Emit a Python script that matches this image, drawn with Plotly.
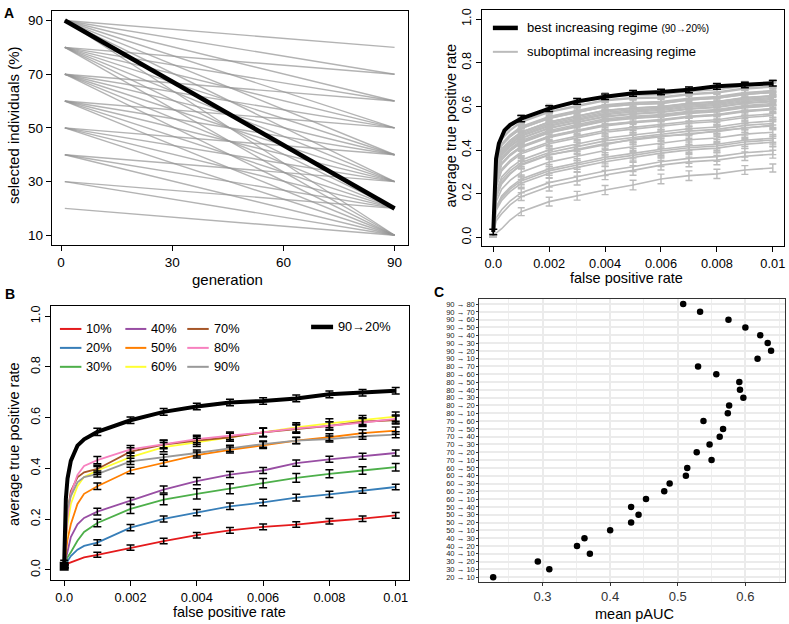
import plotly.graph_objects as go

W, H = 789, 624
FONT = "Liberation Sans, Arial, Helvetica, sans-serif"

# ---------------- data ----------------
# regimes (start % -> end %), in panel C top-to-bottom order
regime_start = [90]*8 + [80]*7 + [70]*6 + [60]*5 + [50]*4 + [40]*3 + [30]*2 + [20]
regime_end = [80, 70, 60, 50, 40, 30, 20, 10,
              70, 60, 50, 40, 30, 20, 10,
              60, 50, 40, 30, 20, 10,
              50, 40, 30, 20, 10,
              40, 30, 20, 10,
              30, 20, 10,
              20, 10,
              10]
mean_pauc = [0.508, 0.533, 0.575, 0.600, 0.622, 0.633, 0.638, 0.618,
             0.530, 0.557, 0.591, 0.592, 0.597, 0.576, 0.574,
             0.538, 0.567, 0.562, 0.547, 0.528, 0.550,
             0.514, 0.512, 0.488, 0.480, 0.453,
             0.431, 0.442, 0.431, 0.400,
             0.362, 0.351, 0.370,
             0.293, 0.310,
             0.227]
best_regime = (90, 20)
generation = [1, 90]

# panel A right: suboptimal increasing regimes, average TPR
fpr_gray = [0, 0.0001, 0.0003, 0.0006, 0.001, 0.002, 0.003, 0.004, 0.005,
            0.006, 0.007, 0.008, 0.009, 0.010]
tpr_subopt = {
    "20→10": [.01, .02, .04, .08, .118, .164, .191, .217, .240, .268, .283, .291, .309, .318],
    "30→20": [.01, .075, .109, .149, .187, .233, .260, .286, .307, .331, .346, .354, .372, .381],
    "30→10": [.01, .089, .127, .167, .205, .251, .278, .304, .324, .347, .362, .370, .388, .397],
    "40→20": [.01, .123, .170, .210, .248, .294, .321, .347, .366, .386, .401, .409, .427, .436],
    "40→30": [.01, .132, .181, .221, .259, .305, .332, .358, .376, .396, .411, .419, .437, .446],
    "40→10": [.01, .138, .190, .230, .268, .314, .341, .367, .385, .404, .419, .427, .445, .454],
    "50→10": [.01, .163, .221, .261, .299, .345, .372, .398, .415, .432, .447, .455, .473, .482],
    "50→20": [.01, .189, .253, .293, .331, .377, .404, .430, .446, .461, .476, .484, .502, .511],
    "50→40": [.01, .180, .245, .290, .335, .380, .400, .425, .450, .465, .470, .490, .500, .515],
    "50→30": [.01, .198, .265, .305, .343, .389, .416, .442, .458, .472, .487, .495, .513, .522],
    "60→10": [.01, .207, .277, .317, .355, .401, .428, .454, .469, .483, .498, .506, .524, .533],
    "60→20": [.01, .229, .305, .345, .383, .429, .456, .482, .496, .508, .523, .531, .549, .558],
    "60→30": [.01, .236, .313, .353, .391, .437, .464, .490, .504, .516, .531, .539, .557, .566],
    "90→80": [.01, .253, .334, .374, .412, .458, .485, .511, .525, .535, .550, .558, .576, .585],
    "60→40": [.01, .256, .338, .378, .416, .462, .489, .515, .528, .538, .553, .561, .579, .588],
    "60→50": [.01, .257, .340, .380, .418, .464, .491, .517, .530, .540, .555, .563, .581, .590],
    "70→20": [.01, .269, .355, .395, .433, .479, .506, .532, .545, .553, .568, .576, .594, .603],
    "80→70": [.01, .271, .357, .397, .435, .481, .508, .534, .547, .555, .570, .578, .596, .605],
    "90→70": [.01, .273, .360, .400, .438, .484, .511, .537, .550, .559, .574, .582, .600, .609],
    "70→60": [.01, .277, .366, .406, .444, .490, .517, .543, .555, .563, .578, .586, .604, .613],
    "70→30": [.01, .285, .375, .415, .453, .499, .526, .552, .564, .572, .587, .595, .613, .622],
    "70→10": [.01, .287, .378, .418, .456, .502, .529, .555, .567, .575, .590, .598, .616, .625],
    "80→60": [.01, .293, .385, .425, .463, .509, .536, .562, .574, .581, .596, .604, .622, .631],
    "70→40": [.01, .297, .390, .430, .468, .514, .541, .567, .579, .586, .601, .609, .627, .636],
    "70→50": [.01, .301, .396, .436, .474, .520, .547, .573, .584, .591, .606, .614, .632, .641],
    "80→10": [.01, .307, .403, .443, .481, .527, .554, .580, .591, .597, .612, .620, .638, .647],
    "90→60": [.01, .308, .404, .444, .482, .528, .555, .581, .592, .598, .613, .621, .639, .648],
    "80→20": [.01, .309, .405, .445, .483, .529, .556, .582, .593, .599, .614, .622, .640, .649],
    "80→50": [.01, .321, .421, .461, .499, .545, .572, .598, .609, .614, .629, .637, .655, .664],
    "80→40": [.01, .322, .422, .462, .500, .546, .573, .599, .609, .614, .629, .637, .655, .664],
    "80→30": [.01, .326, .427, .467, .505, .551, .578, .604, .614, .619, .634, .642, .660, .669],
    "90→50": [.01, .329, .430, .470, .508, .554, .581, .607, .618, .622, .637, .645, .663, .672],
    "90→10": [.01, .343, .449, .489, .527, .573, .600, .626, .636, .639, .654, .662, .680, .689],
    "90→40": [.01, .347, .453, .493, .531, .577, .604, .630, .640, .643, .658, .666, .684, .693],
    "90→30": [.01, .356, .465, .505, .543, .589, .616, .642, .651, .653, .668, .676, .694, .703],
}
gray_err = [0.006, 0.018, 0.02, 0.02, 0.021, 0.022, 0.022, 0.022, 0.021, 0.02, 0.018]

# best increasing regime 90 -> 20
fpr_best = [0, 0.00005, 0.0001, 0.0002, 0.0003, 0.0004, 0.0006, 0.001, 0.002, 0.003,
            0.004, 0.005, 0.006, 0.007, 0.008, 0.009, 0.010]
tpr_best = [0.025, 0.28, 0.36, 0.43, 0.46, 0.49, 0.515, 0.544, 0.59, 0.623,
            0.644, 0.66, 0.666, 0.676, 0.692, 0.698, 0.706]
best_err = [0.013, 0.014, 0.013, 0.013, 0.013, 0.013, 0.013, 0.013, 0.013, 0.013, 0.013]

# panel B: constant regimes
const_labels = ["10%", "20%", "30%", "40%", "50%", "60%", "70%", "80%", "90%"]
const_colors = ["#E41A1C", "#377EB8", "#4DAF4A", "#984EA3", "#FF7F00",
                "#FFFF33", "#A65628", "#F781BF", "#999999"]
fpr_const = [0, 0.0001, 0.0002, 0.0004, 0.0006, 0.001, 0.002, 0.003, 0.004,
             0.005, 0.006, 0.007, 0.008, 0.009, 0.010]
tpr_const = [
    [0.015, 0.025, 0.03, 0.04, 0.05, 0.06, 0.088, 0.114, 0.137, 0.156, 0.170, 0.179, 0.192, 0.202, 0.215],
    [0.015, 0.035, 0.055, 0.08, 0.095, 0.108, 0.167, 0.201, 0.226, 0.251, 0.266, 0.285, 0.298, 0.313, 0.327],
    [0.015, 0.05, 0.07, 0.115, 0.15, 0.185, 0.241, 0.277, 0.300, 0.320, 0.342, 0.363, 0.379, 0.392, 0.405],
    [0.015, 0.08, 0.13, 0.18, 0.205, 0.23, 0.272, 0.317, 0.350, 0.376, 0.392, 0.421, 0.436, 0.448, 0.461],
    [0.015, 0.12, 0.18, 0.26, 0.30, 0.33, 0.392, 0.421, 0.453, 0.473, 0.492, 0.510, 0.523, 0.539, 0.549],
    [0.015, 0.18, 0.26, 0.33, 0.367, 0.392, 0.445, 0.484, 0.503, 0.523, 0.542, 0.562, 0.578, 0.591, 0.604],
    [0.015, 0.23, 0.31, 0.365, 0.385, 0.398, 0.466, 0.494, 0.510, 0.523, 0.542, 0.555, 0.568, 0.584, 0.591],
    [0.015, 0.21, 0.30, 0.375, 0.41, 0.433, 0.475, 0.497, 0.516, 0.529, 0.542, 0.558, 0.568, 0.581, 0.595],
    [0.015, 0.24, 0.29, 0.345, 0.366, 0.378, 0.428, 0.444, 0.461, 0.479, 0.496, 0.510, 0.516, 0.527, 0.533],
]
const_err = [
    [0.006, 0.010, 0.010, 0.011, 0.011, 0.011, 0.011, 0.011, 0.011, 0.011, 0.011],
    [0.006, 0.011, 0.012, 0.012, 0.012, 0.013, 0.013, 0.013, 0.012, 0.011, 0.011],
    [0.006, 0.015, 0.018, 0.02, 0.02, 0.02, 0.018, 0.017, 0.016, 0.015, 0.015],
    [0.006, 0.013, 0.014, 0.014, 0.014, 0.012, 0.012, 0.012, 0.012, 0.012, 0.012],
    [0.006, 0.013, 0.013, 0.012, 0.012, 0.012, 0.013, 0.013, 0.014, 0.014, 0.014],
    [0.006, 0.016, 0.018, 0.018, 0.016, 0.016, 0.017, 0.018, 0.018, 0.018, 0.018],
    [0.006, 0.015, 0.016, 0.016, 0.016, 0.016, 0.016, 0.016, 0.016, 0.016, 0.016],
    [0.006, 0.014, 0.015, 0.015, 0.015, 0.015, 0.016, 0.016, 0.016, 0.016, 0.016],
    [0.006, 0.012, 0.012, 0.012, 0.012, 0.012, 0.012, 0.012, 0.012, 0.012, 0.012],
]

fpr_ticks = [0, 0.002, 0.004, 0.006, 0.008, 0.010]
fpr_ticktext = ["0.0", "0.002", "0.004", "0.006", "0.008", "0.01"]
tpr_ticks = [0, 0.2, 0.4, 0.6, 0.8, 1.0]
tpr_ticktext = ["0.0", "0.2", "0.4", "0.6", "0.8", "1.0"]
gen_ticks = [0, 30, 60, 90]
sel_ticks = [10, 30, 50, 70, 90]
pauc_ticks = [0.3, 0.4, 0.5, 0.6]

GRAY_A = "rgba(150,150,150,0.72)"
GRAY_R = "#BBBBBB"


def px(x):
    return x / W


def py(y):
    return 1 - y / H


def bar_idx(xs):
    # positions where error bars are drawn: fpr 0 and every 0.001
    return [i for i, v in enumerate(xs) if v == 0 or v >= 0.001 - 1e-12]


fig = go.Figure()

# ---------------- panel A left ----------------
for s, e in zip(regime_start, regime_end):
    if (s, e) == best_regime:
        continue
    fig.add_trace(go.Scatter(x=generation, y=[s, e], mode="lines",
                             line=dict(color=GRAY_A, width=1.4),
                             xaxis="x", yaxis="y", showlegend=False, hoverinfo="skip"))
fig.add_trace(go.Scatter(x=generation, y=list(best_regime), mode="lines",
                         line=dict(color="black", width=4.5),
                         xaxis="x", yaxis="y", showlegend=False, hoverinfo="skip"))

# ---------------- panel A right ----------------
gi = bar_idx(fpr_gray)
for lab, ys in tpr_subopt.items():
    fig.add_trace(go.Scatter(x=fpr_gray, y=ys, mode="lines",
                             line=dict(color=GRAY_R, width=1.6),
                             xaxis="x2", yaxis="y2", showlegend=False, hoverinfo="skip"))
for lab, ys in tpr_subopt.items():
    fig.add_trace(go.Scatter(x=[fpr_gray[i] for i in gi], y=[ys[i] for i in gi],
                             mode="markers", marker=dict(size=1, color=GRAY_R),
                             error_y=dict(type="data", array=gray_err, color=GRAY_R,
                                          thickness=1.4, width=3.5),
                             xaxis="x2", yaxis="y2", showlegend=False, hoverinfo="skip"))
bi = bar_idx(fpr_best)
fig.add_trace(go.Scatter(x=fpr_best, y=tpr_best, mode="lines",
                         line=dict(color="black", width=4),
                         xaxis="x2", yaxis="y2", showlegend=False, hoverinfo="skip"))
fig.add_trace(go.Scatter(x=[fpr_best[i] for i in bi], y=[tpr_best[i] for i in bi],
                         mode="markers", marker=dict(size=1, color="black"),
                         error_y=dict(type="data", array=best_err, color="black",
                                      thickness=1.5, width=4),
                         xaxis="x2", yaxis="y2", showlegend=False, hoverinfo="skip"))

# ---------------- panel B ----------------
ci = bar_idx(fpr_const)
for lab, col, ys in zip(const_labels, const_colors, tpr_const):
    fig.add_trace(go.Scatter(x=fpr_const, y=ys, mode="lines",
                             line=dict(color=col, width=1.8),
                             xaxis="x3", yaxis="y3", showlegend=False, hoverinfo="skip"))
for lab, ys, er in zip(const_labels, tpr_const, const_err):
    fig.add_trace(go.Scatter(x=[fpr_const[i] for i in ci], y=[ys[i] for i in ci],
                             mode="markers", marker=dict(size=1, color="black"),
                             error_y=dict(type="data", array=er, color="black",
                                          thickness=1.5, width=4),
                             xaxis="x3", yaxis="y3", showlegend=False, hoverinfo="skip"))
fig.add_trace(go.Scatter(x=fpr_best, y=tpr_best, mode="lines",
                         line=dict(color="black", width=4),
                         xaxis="x3", yaxis="y3", showlegend=False, hoverinfo="skip"))
fig.add_trace(go.Scatter(x=[fpr_best[i] for i in bi], y=[tpr_best[i] for i in bi],
                         mode="markers", marker=dict(size=1, color="black"),
                         error_y=dict(type="data", array=best_err, color="black",
                                      thickness=1.5, width=4),
                         xaxis="x3", yaxis="y3", showlegend=False, hoverinfo="skip"))
fig.add_trace(go.Scatter(x=fpr_best[:1], y=tpr_const[4][:1], mode="markers",
                         marker=dict(symbol="square", size=9, color="black"),
                         xaxis="x3", yaxis="y3", showlegend=False, hoverinfo="skip"))

# ---------------- panel C ----------------
labels_c = [f"{s} → {e}" for s, e in zip(regime_start, regime_end)]
fig.add_trace(go.Scatter(x=mean_pauc, y=labels_c, mode="markers",
                         marker=dict(size=6.5, color="black"),
                         xaxis="x4", yaxis="y4", showlegend=False, hoverinfo="skip"))


# ---------------- axes ----------------
def r_axis(**kw):
    d = dict(showline=True, mirror=True, linecolor="black", linewidth=1,
             ticks="outside", ticklen=5, tickwidth=1, tickcolor="black",
             showgrid=False, zeroline=False,
             tickfont=dict(size=12.8, color="black", family=FONT))
    d.update(kw)
    return d


layout = dict(
    width=W, height=H, autosize=False,
    margin=dict(l=0, r=0, t=0, b=0),
    paper_bgcolor="white", plot_bgcolor="white",
    font=dict(family=FONT, color="black"),
    xaxis=r_axis(domain=[px(51.7), px(408.3)], range=[-2.56, 93.56], anchor="y",
                 tickvals=gen_ticks, tickfont=dict(size=13.5, color="black", family=FONT)),
    yaxis=r_axis(domain=[py(243.3), py(9.3)], range=[6.55, 93.45], anchor="x",
                 tickvals=sel_ticks, tickfont=dict(size=13.5, color="black", family=FONT)),
    xaxis2=r_axis(domain=[px(482.7), px(785)], range=[-0.0004, 0.0104], anchor="y2",
                  tickvals=fpr_ticks, ticktext=fpr_ticktext),
    yaxis2=r_axis(domain=[py(245), py(8.3)], range=[-0.04, 1.04], anchor="x2",
                  tickvals=tpr_ticks, ticktext=tpr_ticktext, tickangle=-90),
    xaxis3=r_axis(domain=[px(51), px(409.5)], range=[-0.0004, 0.0104], anchor="y3",
                  tickvals=fpr_ticks, ticktext=fpr_ticktext),
    yaxis3=r_axis(domain=[py(580), py(305)], range=[-0.04, 1.04], anchor="x3",
                  tickvals=tpr_ticks, ticktext=tpr_ticktext, tickangle=-90),
    xaxis4=dict(domain=[px(480), px(786)], range=[0.2066, 0.6586], anchor="y4",
                showline=True, mirror=True, linecolor="#333333", linewidth=1,
                ticks="outside", ticklen=3, tickcolor="#333333", zeroline=False,
                tickvals=pauc_ticks, showgrid=True, gridcolor="#EBEBEB", gridwidth=1.5,
                minor=dict(dtick=0.05, tick0=0.25, showgrid=True, gridcolor="#EFEFEF",
                           gridwidth=0.8, ticks=""),
                tickfont=dict(size=13, color="#333333", family=FONT)),
    yaxis4=dict(domain=[py(581.7), py(298.3)], anchor="x4", type="category",
                categoryorder="array", categoryarray=labels_c[::-1],
                tickmode="array", tickvals=labels_c, ticktext=labels_c,
                range=[-0.6, len(labels_c) - 0.4],
                showline=True, mirror=True, linecolor="#333333", linewidth=1,
                ticks="outside", ticklen=2, tickcolor="#333333", zeroline=False,
                showgrid=True, gridcolor="#EBEBEB", gridwidth=1.5,
                tickfont=dict(size=7.6, color="#222222", family=FONT)),
)
fig.update_layout(**layout)

ann = []


def text(x, y, s, size=14.5, angle=0, xanchor="center", yanchor="middle", color="black"):
    ann.append(dict(x=px(x), y=py(y), xref="paper", yref="paper", text=s, showarrow=False,
                    textangle=angle, xanchor=xanchor, yanchor=yanchor,
                    font=dict(size=size, color=color, family=FONT)))


# panel letters
text(2, 1, "<b>A</b>", size=14, xanchor="left", yanchor="top")
text(3, 283, "<b>B</b>", size=14, xanchor="left", yanchor="top")
text(433, 281, "<b>C</b>", size=14, xanchor="left", yanchor="top")

# axis titles
text(13.5, 123, "selected individuals (%)", size=15, angle=-90)
text(228, 278, "generation", size=15)
text(451.5, 124, "average true positive rate", angle=-90)
text(627, 276.5, "false positive rate")
text(13.5, 443, "average true positive rate", angle=-90)
text(230, 611.5, "false positive rate")
text(635, 613.5, "mean pAUC")

# legend panel A right
shapes = []


def seg(x0, x1, y, color, width):
    shapes.append(dict(type="line", xref="paper", yref="paper",
                       x0=px(x0), x1=px(x1), y0=py(y), y1=py(y),
                       line=dict(color=color, width=width)))


seg(493.5, 518.5, 26, "black", 4.5)
text(526, 26, "best increasing regime <span style='font-size:10px'>(90→20%)</span>",
     size=13, xanchor="left")
seg(493.5, 518.5, 50, GRAY_R, 2)
text(526, 50, "suboptimal increasing regime", size=13, xanchor="left")

# legend panel B
rows = [328, 347, 366]
cols = [(60, 81.5, 84), (125.5, 146.5, 149), (187.5, 209, 212)]
for k, (lab, col) in enumerate(zip(const_labels, const_colors)):
    c0, c1, tx = cols[k // 3]
    yy = rows[k % 3]
    seg(c0, c1, yy, col, 2)
    text(tx, yy, lab, size=12.8, xanchor="left")
seg(311.5, 333.5, 326, "black", 4.5)
text(336, 326, "90→20%", size=12.8, xanchor="left")

fig.update_layout(annotations=ann, shapes=shapes)

fig.write_html("out.html", config={"displayModeBar": False},
               post_script="document.body.style.margin='0px';document.body.style.overflow='hidden';")
